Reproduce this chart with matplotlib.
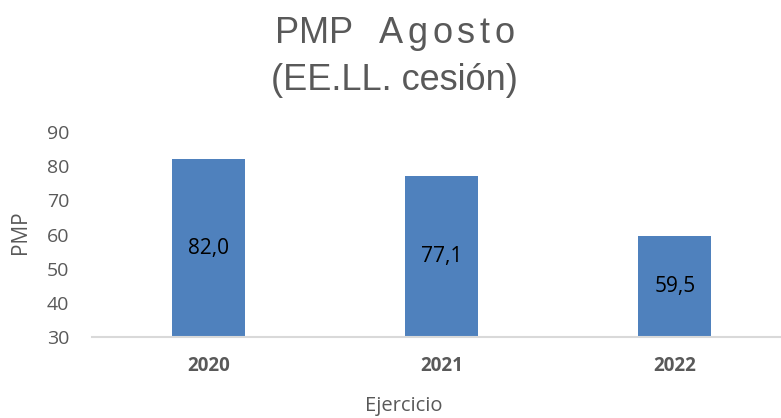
import matplotlib
matplotlib.use("Agg")
import matplotlib.pyplot as plt
from matplotlib import font_manager
from matplotlib.font_manager import FontProperties
from matplotlib.ft2font import FT2Font

years = ["2020", "2021", "2022"]
pmp = [82.0, 77.1, 59.5]
labels = ["82,0", "77,1", "59,5"]
yticks = [30, 40, 50, 60, 70, 80, 90]
title_line1 = ["PMP", "Agosto"]
title_line2 = "(EE.LL. cesión)"

W, H = 781, 418
DPI = 100
fig = plt.figure(figsize=(W / DPI, H / DPI), dpi=DPI)
ax = fig.add_axes([91.5 / W, (H - 337) / H, 700 / W, 205 / H])

x = list(range(len(years)))
ax.bar(x, pmp, width=0.313, color="#4F81BD", zorder=2)
for xi, v, lab in zip(x, pmp, labels):
    ax.text(xi, (30 + v) / 2, lab, ha="center", va="center",
            fontsize=15, color="black", family="Open Sans")

ax.set_xlim(-0.5, 2.5)
ax.set_ylim(30, 90)
ax.set_yticks(yticks)
ax.set_xticks(x)
ax.set_xticklabels(years, fontweight="bold", family="Open Sans", fontsize=13.5, color="#595959")
ax.set_yticklabels([str(t) for t in yticks], family="Open Sans", fontsize=14, color="#595959")
ax.tick_params(axis="both", length=0)
ax.tick_params(axis="x", pad=14)
ax.tick_params(axis="y", pad=16)
for s in ["top", "right", "left"]:
    ax.spines[s].set_visible(False)
ax.spines["bottom"].set_color("#D9D9D9")
ax.spines["bottom"].set_linewidth(1.5)

fig.text(21 / W, (H - 232) / H, "PMP", rotation=90, ha="center", va="center",
         family="Open Sans", fontsize=15, color="#595959")
fig.text(404 / W, (H - 406) / H, "Ejercicio", ha="center", va="center",
         family="Open Sans", fontsize=14.5, color="#595959")

FAMILY = "Liberation Sans"
_font = FT2Font(font_manager.findfont(FontProperties(family=FAMILY)))


def advances(s, size):
    _font.set_size(size, DPI)
    return [_font.load_char(ord(c)).linearHoriAdvance / 65536.0 for c in s]


def draw_chars(s, x0, yc, size, tracking_px):
    cur = x0
    for c, a in zip(s, advances(s, size)):
        fig.text(cur / W, (H - yc) / H, c, ha="left", va="center",
                 family=FAMILY, fontsize=size, color="#595959")
        cur += a + tracking_px
    return cur


TSIZE = 26
# line 1: "PMP" natural, "Agosto" slightly tracked
draw_chars(title_line1[0], 275, 33.5, TSIZE, 0.0)
draw_chars(title_line1[1], 379, 33.5, TSIZE, 4.6)
# line 2: natural spacing, centred
fig.text(394 / W, (H - 81) / H, title_line2, ha="center", va="center",
         family=FAMILY, fontsize=TSIZE, color="#595959")

fig.savefig("out.png", dpi=DPI)
